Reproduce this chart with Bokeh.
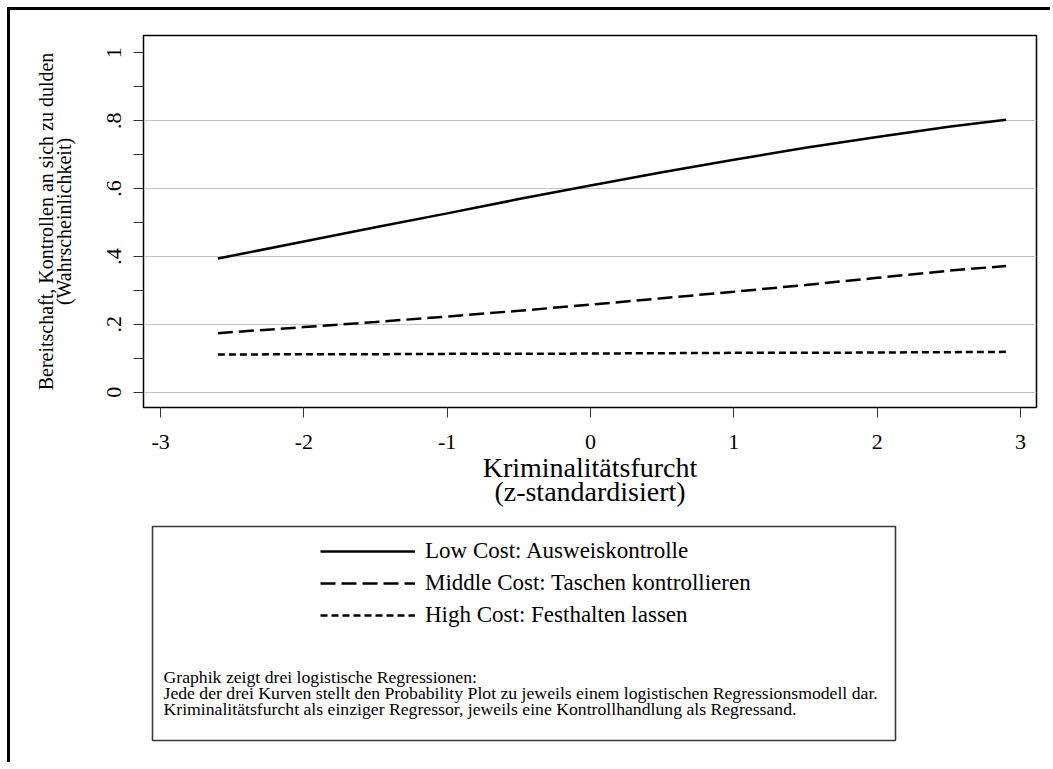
from bokeh.plotting import figure
from bokeh.models import (Range1d, FixedTicker, Legend, LegendItem, Column, BoxAnnotation)
from bokeh.core.properties import value
from bokeh.embed import file_html
from bokeh.resources import INLINE

FONT = "Liberation Serif"

# ---- data ----
x_vals = [-2.6, -2.0, -1.5, -1.0, -0.5, 0.0, 0.5, 1.0, 1.5, 2.0, 2.5, 2.9]
low_cost = [0.394, 0.444, 0.486, 0.527, 0.569, 0.609, 0.648, 0.685, 0.720, 0.752, 0.782, 0.803]
middle_cost = [0.174, 0.192, 0.207, 0.223, 0.240, 0.258, 0.277, 0.296, 0.316, 0.337, 0.358, 0.372]
high_cost = [0.111, 0.112, 0.112, 0.113, 0.113, 0.114, 0.115, 0.116, 0.116, 0.117, 0.118, 0.119]

series_labels = ["Low Cost: Ausweiskontrolle",
                 "Middle Cost: Taschen kontrollieren",
                 "High Cost: Festhalten lassen"]
x_ticks = [-3, -2, -1, 0, 1, 2, 3]
x_tick_labels = ["-3", "-2", "-1", "0", "1", "2", "3"]
y_ticks = [0, 0.2, 0.4, 0.6, 0.8, 1]
y_tick_labels = ["0", ".2", ".4", ".6", ".8", "1"]
y_minor = [0.1, 0.3, 0.5, 0.7, 0.9]
notes = ["Graphik zeigt drei logistische Regressionen:",
         "Jede der drei Kurven stellt den Probability Plot zu jeweils einem logistischen Regressionsmodell dar.",
         "Kriminalitätsfurcht als einziger Regressor, jeweils eine Kontrollhandlung als Regressand."]

styles = [dict(line_dash="solid"), dict(line_dash="15 6"), dict(line_dash="7 4")]

W = 1040
H1 = 505
H2 = 247
BL, BR = 133, 14
TXT = "black"

# ---- main plot ----
p = figure(width=W, height=H1,
           x_range=Range1d(-3.119, 3.112), y_range=Range1d(-0.045, 1.051),
           output_backend="svg", toolbar_location=None,
           min_border_left=BL, min_border_right=BR,
           min_border_top=25, min_border_bottom=H1 - 25 - 372)
p.outline_line_color = "black"
p.outline_line_width = 1.5
p.background_fill_color = "white"
p.border_fill_color = "white"

p.xgrid.visible = False
p.ygrid.ticker = FixedTicker(ticks=y_ticks[:-1])
p.ygrid.grid_line_color = "#c4c4c4"
p.ygrid.grid_line_width = 1.2

for ys, st in zip([low_cost, middle_cost, high_cost], styles):
    p.line(x_vals, ys, line_color="black", line_width=2.5, line_cap="butt", **st)

xa = p.xaxis[0]
xa.ticker = FixedTicker(ticks=x_ticks)
xa.major_label_overrides = {t: s for t, s in zip(x_ticks, x_tick_labels)}
xa.major_tick_out = 10
xa.major_tick_in = 0
xa.minor_tick_out = 0
xa.major_tick_line_color = "#333333"
xa.axis_line_color = "black"
xa.major_label_text_font = FONT
xa.major_label_text_font_size = "22px"
xa.major_label_text_color = TXT
xa.major_label_standoff = 17
xa.axis_label = "Kriminalitätsfurcht\n(z-standardisiert)"
xa.axis_label_text_font = FONT
xa.axis_label_text_font_size = "28px"
xa.axis_label_text_font_style = "normal"
xa.axis_label_text_color = TXT
xa.axis_label_text_line_height = 0.8
xa.axis_label_standoff = 0

ya = p.yaxis[0]
ya.ticker = FixedTicker(ticks=y_ticks, minor_ticks=y_minor)
ya.major_label_overrides = {t: s for t, s in zip(y_ticks, y_tick_labels)}
ya.major_label_orientation = "vertical"
ya.major_tick_out = 10
ya.major_tick_in = 0
ya.minor_tick_out = 10
ya.minor_tick_in = 0
ya.major_tick_line_color = "#333333"
ya.minor_tick_line_color = "#333333"
ya.axis_line_color = "black"
ya.major_label_text_font = FONT
ya.major_label_text_font_size = "22px"
ya.major_label_text_color = TXT
ya.major_label_standoff = 12
ya.axis_label = "Bereitschaft, Kontrollen an sich zu dulden\n(Wahrscheinlichkeit)"
ya.axis_label_text_font = FONT
ya.axis_label_text_font_size = "20px"
ya.axis_label_text_font_style = "normal"
ya.axis_label_text_color = TXT
ya.axis_label_text_line_height = 0.8
ya.axis_label_standoff = 30

# ---- legend area (data units = pixels, y grows downward) ----
p2 = figure(width=W, height=H2,
            x_range=Range1d(0, W - BL - BR), y_range=Range1d(H2, 0),
            output_backend="svg", toolbar_location=None,
            x_axis_location=None, y_axis_location=None,
            min_border_left=BL, min_border_right=BR,
            min_border_top=0, min_border_bottom=0)
p2.grid.visible = False
p2.outline_line_color = None
p2.border_fill_color = "white"

p2.add_layout(BoxAnnotation(left=9, right=752, top=11, bottom=225,
                            fill_alpha=0, line_color="#3a3a3a", line_alpha=1.0,
                            line_width=1.6))

nan = float("nan")
items = []
for lab, st in zip(series_labels, styles):
    r = p2.line([nan], [nan], line_color="black", line_width=2.5, line_cap="butt", **st)
    items.append(LegendItem(label=lab, renderers=[r]))

legend = Legend(items=items, location=(177, 134),
                glyph_width=95, glyph_height=26, label_height=26,
                label_standoff=10, spacing=6, padding=0, margin=0,
                border_line_color=None, background_fill_alpha=0,
                label_text_font=FONT, label_text_font_size="23px",
                label_text_color=TXT, label_text_baseline="middle")
p2.add_layout(legend)

p2.text(x=[20, 20, 20], y=[161, 177, 193], text=notes,
        text_font=value(FONT), text_font_size="17.7px",
        text_baseline="middle", text_align="left", text_color=TXT)

layout = Column(children=[p, p2], spacing=0, margin=(7, 0, 0, 7),
                styles={"border-top": "3px solid black",
                        "border-left": "3px solid black"})

open("out.html", "w").write(file_html(layout, INLINE))
